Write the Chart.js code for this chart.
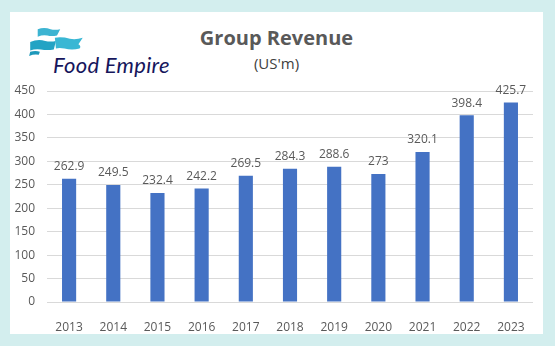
<!DOCTYPE html>
<html>
<head>
<meta charset="utf-8">
<script src="https://cdn.jsdelivr.net/npm/chart.js@4"></script>
<style>
    html, body { margin: 0; padding: 0; }
    body { width: 555px; height: 346px; background: #d3eeee; position: relative; overflow: hidden; font-family: 'Open Sans', sans-serif; }
    .panel { position: absolute; left: 10px; top: 12px; width: 533px; height: 322px; background: #fff; }
    #chart { position: absolute; left: 0; top: 0; }
    .title { position: absolute; left: 0; width: 553px; top: 24px; text-align: center; font-size: 20px; font-weight: 700; color: #595959; }
    .subtitle { position: absolute; left: 0; width: 553px; top: 53px; text-align: center; font-size: 15px; color: #404040; }
    .logo-text { position: absolute; left: 53px; top: 51px; font-family: Lato, sans-serif; font-style: italic; font-weight: 400; font-size: 22px; color: #16165c; letter-spacing: 0.3px; }
    .logo-flags { position: absolute; left: 27px; top: 27px; }
</style>
</head>
<body>
<div class="panel"></div>
<svg class="logo-flags" width="60" height="30" viewBox="0 0 56 28">
    <!-- obere Fahne -->
    <path d="M10 2 Q16 0 22 2 Q26 3 31 2 L28 8 Q23 9 19 8 Q15 7 10 9 Z" fill="#3cb4d2"/>
    <!-- untere Fahnen -->
    <path d="M3 14 Q10 11 17 13 Q22 14 27 13 L25 21 Q19 22 13 21 Q8 20 3 22 Z" fill="#23a3c4"/>
    <path d="M26 10 Q33 9 40 11 Q46 12 52 10 L48 16 Q51 18 49 20 Q42 22 35 20 Q30 19 27 20 Z" fill="#39b7d4"/>
    <path d="M3 23 Q8 22 12 23 L11 26 Q7 25 2 27 Z" fill="#1d98ba"/>
</svg>
<div class="logo-text">Food Empire</div>
<div class="title">Group Revenue</div>
<div class="subtitle">(US'm)</div>
<canvas id="chart" width="555" height="346"></canvas>
<script>
// Konzernumsatz in Mio. US$
const years = ['2013', '2014', '2015', '2016', '2017', '2018', '2019', '2020', '2021', '2022', '2023'];
const revenue = [262.9, 249.5, 232.4, 242.2, 269.5, 284.3, 288.6, 273, 320.1, 398.4, 425.7];
const yTicks = [0, 50, 100, 150, 200, 250, 300, 350, 400, 450];

const textColor = '#595959';

// Werte über die Balken schreiben
const valueLabels = {
    id: 'valueLabels',
    afterDatasetsDraw(chart) {
        const ctx = chart.ctx;
        const meta = chart.getDatasetMeta(0);
        ctx.save();
        ctx.font = '12px "Open Sans", sans-serif';
        ctx.fillStyle = textColor;
        ctx.textAlign = 'center';
        ctx.textBaseline = 'middle';
        meta.data.forEach((bar, i) => {
            ctx.fillText(String(revenue[i]), bar.x, bar.y - 12);
        });
        ctx.restore();
    }
};

new Chart(document.getElementById('chart'), {
    type: 'bar',
    data: {
        labels: years,
        datasets: [{
            data: revenue,
            backgroundColor: '#4472c4',
            categoryPercentage: 1,
            barPercentage: 0.32
        }]
    },
    options: {
        responsive: false,
        animation: false,
        layout: { padding: { top: 91, right: 22, bottom: 0, left: 0 } },
        plugins: {
            legend: { display: false },
            tooltip: { enabled: false }
        },
        scales: {
            x: {
                grid: { display: false },
                border: { display: false },
                ticks: {
                    color: textColor,
                    font: { family: 'Open Sans', size: 12 },
                    padding: 10,
                    maxRotation: 0
                },
                afterFit: (scale) => { scale.height = 44; }
            },
            y: {
                min: 0,
                max: 450,
                afterBuildTicks: (scale) => { scale.ticks = yTicks.map(v => ({ value: v })); },
                grid: { color: '#d9d9d9', drawTicks: false },
                border: { display: false },
                ticks: {
                    color: textColor,
                    font: { family: 'Open Sans', size: 12 },
                    padding: 12
                },
                afterFit: (scale) => { scale.width = 47; }
            }
        }
    },
    plugins: [valueLabels]
});
</script>
</body>
</html>
